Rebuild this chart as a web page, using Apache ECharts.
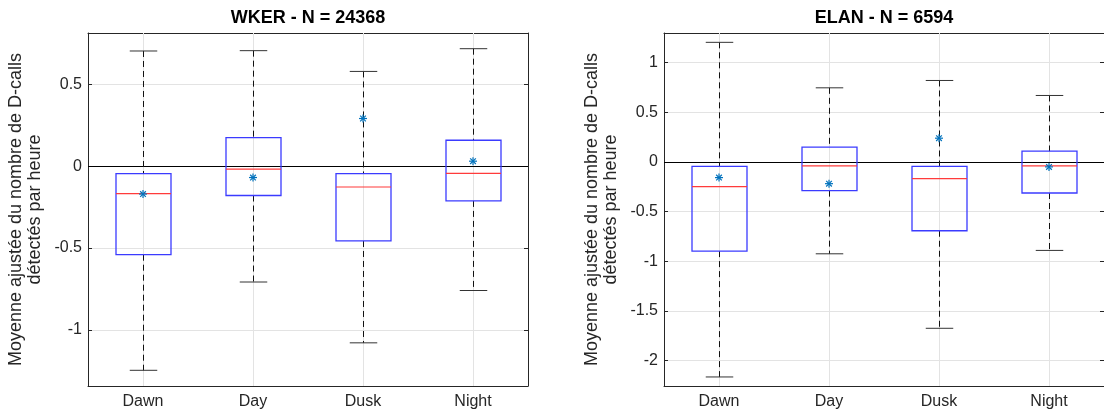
<!DOCTYPE html>
<html>
<head>
<meta charset="utf-8">
<script src="https://cdn.jsdelivr.net/npm/echarts@6/dist/echarts.min.js"></script>
<style>
html,body{margin:0;padding:0;background:#fff;}
#chart{width:1104px;height:411px;}
</style>
</head>
<body>
<div id="chart"></div>
<script>
// ---- Data ----
const categories = ['Dawn', 'Day', 'Dusk', 'Night'];

const wkerTitle = 'WKER - N = 24368';
const wkerLower  = [-1.248, -0.708, -1.080, -0.760];
const wkerQ1     = [-0.541, -0.179, -0.457, -0.212];
const wkerMedian = [-0.167, -0.018, -0.127, -0.043];
const wkerQ3     = [-0.045,  0.175, -0.045,  0.159];
const wkerUpper  = [ 0.705,  0.707,  0.580,  0.719];
const wkerMean   = [-0.170, -0.069,  0.292,  0.031];
const wkerYRange = [-1.344, 0.815];

const elanTitle = 'ELAN - N = 6594';
const elanLower  = [-2.165, -0.925, -1.675, -0.891];
const elanQ1     = [-0.898, -0.289, -0.693, -0.313];
const elanMedian = [-0.249, -0.040, -0.168, -0.040];
const elanQ3     = [-0.044,  0.148, -0.044,  0.108];
const elanUpper  = [ 1.204,  0.746,  0.820,  0.669];
const elanMean   = [-0.158, -0.219,  0.239, -0.050];
const elanYRange = [-2.256, 1.298];

const yLabel = 'Moyenne ajustée du nombre de D-calls\ndétectés par heure';

// ---- Styles ----
const FONT = '"Liberation Sans", Arial, Helvetica, sans-serif';
const TXT = '#262626';
const AXIS = '#262626';
const GRIDC = '#e3e3e3';
const BOXC = '#3b3bff';
const MEDC = '#ff3b3b';
const MEANC = '#0072BD';

function boxData(lo, q1, med, q3, up) {
  return categories.map((c, i) => [i, lo[i], q1[i], med[i], q3[i], up[i]]);
}
function meanData(m) {
  return categories.map((c, i) => [i, m[i]]);
}

function renderBox(params, api) {
  const x = api.value(0);
  const lo = api.coord([x, api.value(1)]);
  const q1 = api.coord([x, api.value(2)]);
  const md = api.coord([x, api.value(3)]);
  const q3 = api.coord([x, api.value(4)]);
  const up = api.coord([x, api.value(5)]);
  const band = api.size([1, 0])[0];
  const bw = band * 0.25, cw = band * 0.125;
  const cx = Math.round(lo[0]) + 0.5;
  const dash = {stroke: '#111', lineWidth: 1, lineDash: [6, 4], fill: null};
  const solid = {stroke: '#333', lineWidth: 1, fill: null};
  return {
    type: 'group',
    children: [
      {type: 'line', shape: {x1: cx, y1: up[1], x2: cx, y2: q3[1]}, style: dash},
      {type: 'line', shape: {x1: cx, y1: q1[1], x2: cx, y2: lo[1]}, style: dash},
      {type: 'line', shape: {x1: cx - cw, y1: up[1], x2: cx + cw, y2: up[1]}, style: solid},
      {type: 'line', shape: {x1: cx - cw, y1: lo[1], x2: cx + cw, y2: lo[1]}, style: solid},
      {type: 'rect', shape: {x: cx - bw, y: q3[1], width: 2 * bw, height: q1[1] - q3[1]},
        style: {stroke: BOXC, lineWidth: 1.3, fill: null}},
      {type: 'line', shape: {x1: cx - bw, y1: md[1], x2: cx + bw, y2: md[1]},
        style: {stroke: MEDC, lineWidth: 1.2}}
    ]
  };
}

function renderStar(params, api) {
  const p = api.coord([api.value(0), api.value(1)]);
  const r = 4, d = r * 0.7071;
  const st = {stroke: MEANC, lineWidth: 1.2};
  return {
    type: 'group',
    children: [
      {type: 'line', shape: {x1: p[0] - r, y1: p[1], x2: p[0] + r, y2: p[1]}, style: st},
      {type: 'line', shape: {x1: p[0], y1: p[1] - r, x2: p[0], y2: p[1] + r}, style: st},
      {type: 'line', shape: {x1: p[0] - d, y1: p[1] - d, x2: p[0] + d, y2: p[1] + d}, style: st},
      {type: 'line', shape: {x1: p[0] - d, y1: p[1] + d, x2: p[0] + d, y2: p[1] - d}, style: st}
    ]
  };
}

const grids = [
  {left: 88, top: 33, width: 440, height: 353},
  {left: 664, top: 33, width: 440, height: 353}
];

function xAxes(gi) {
  return [
    {type: 'category', gridIndex: gi, data: categories, position: 'bottom', boundaryGap: true,
     axisLine: {onZero: false, lineStyle: {color: AXIS, width: 1}},
     axisTick: {show: true, inside: true, alignWithLabel: true, length: 4, lineStyle: {color: AXIS}},
     axisLabel: {color: TXT, fontSize: 16, fontFamily: FONT, margin: 8},
     splitLine: {show: false}},
    {type: 'category', gridIndex: gi, data: categories, position: 'top', boundaryGap: true,
     axisLine: {onZero: false, lineStyle: {color: AXIS, width: 1}},
     axisTick: {show: true, inside: true, alignWithLabel: true, length: 4, lineStyle: {color: AXIS}},
     axisLabel: {show: false}, splitLine: {show: false}}
  ];
}
function yAxes(gi, range, splitNumber) {
  return [
    {type: 'value', gridIndex: gi, position: 'left', min: range[0], max: range[1], splitNumber: splitNumber,
     name: yLabel, nameLocation: 'middle', nameRotate: 90, nameGap: 43,
     nameTextStyle: {color: TXT, fontSize: 18, fontFamily: FONT, lineHeight: 19},
     axisLine: {show: true, onZero: false, lineStyle: {color: AXIS, width: 1}},
     axisTick: {show: true, inside: true, length: 4, lineStyle: {color: AXIS}},
     axisLabel: {color: TXT, fontSize: 16, fontFamily: FONT, margin: 6, showMinLabel: false, showMaxLabel: false},
     splitLine: {show: true, lineStyle: {color: GRIDC, width: 1}}},
    {type: 'value', gridIndex: gi, position: 'right', min: range[0], max: range[1], splitNumber: splitNumber,
     axisLine: {show: true, onZero: false, lineStyle: {color: AXIS, width: 1}},
     axisTick: {show: true, inside: true, length: 4, lineStyle: {color: AXIS}},
     axisLabel: {show: false}, splitLine: {show: false}}
  ];
}

function seriesFor(gi, box, mean, med) {
  const xi = gi * 2, yi = gi * 2;
  return [
    {type: 'scatter', xAxisIndex: xi, yAxisIndex: yi, data: med, symbolSize: 0, silent: true, z: 1,
     markLine: {silent: true, z: 1, symbol: 'none', label: {show: false}, animation: false,
       data: categories.map(c => ({xAxis: c, lineStyle: {color: GRIDC, width: 1, type: 'solid'}}))
         .concat([{yAxis: 0, lineStyle: {color: '#000', width: 1, type: 'solid'}}])}},
    {type: 'custom', xAxisIndex: xi, yAxisIndex: yi, renderItem: renderBox, data: box, z: 3, silent: true},
    {type: 'custom', xAxisIndex: xi, yAxisIndex: yi, renderItem: renderStar, data: mean, z: 4, silent: true}
  ];
}

const chart = echarts.init(document.getElementById('chart'), null, {renderer: 'canvas'});
chart.setOption({
  animation: false,
  backgroundColor: '#fff',
  title: [
    {text: wkerTitle, left: 308, top: 9, textAlign: 'center', padding: 0,
     textStyle: {fontSize: 18, fontWeight: 'bold', color: '#000', fontFamily: FONT}},
    {text: elanTitle, left: 884, top: 9, textAlign: 'center', padding: 0,
     textStyle: {fontSize: 18, fontWeight: 'bold', color: '#000', fontFamily: FONT}}
  ],
  grid: grids,
  xAxis: xAxes(0).concat(xAxes(1)),
  yAxis: yAxes(0, wkerYRange, 5).concat(yAxes(1, elanYRange, 7)),
  series: seriesFor(0, boxData(wkerLower, wkerQ1, wkerMedian, wkerQ3, wkerUpper), meanData(wkerMean), wkerMedian)
    .concat(seriesFor(1, boxData(elanLower, elanQ1, elanMedian, elanQ3, elanUpper), meanData(elanMean), elanMedian))
});
</script>
</body>
</html>
